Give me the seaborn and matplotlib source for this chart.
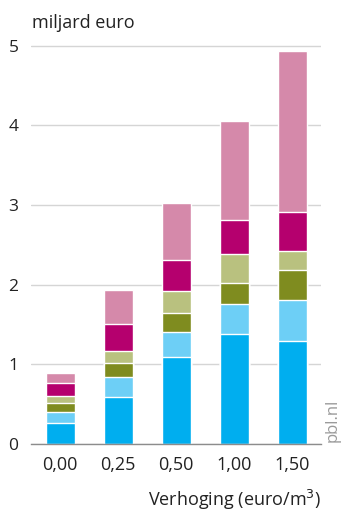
import matplotlib
matplotlib.use("Agg")
import matplotlib.pyplot as plt
import seaborn as sns
import numpy as np
import pandas as pd

# Price increase categories (euro/m3)
categories = ["0,00", "0,25", "0,50", "1,00", "1,50"]

# Stacked components, bottom to top (miljard euro)
comp_1 = [0.26, 0.59, 1.09, 1.38, 1.29]
comp_2 = [0.145, 0.25, 0.32, 0.38, 0.52]
comp_3 = [0.115, 0.18, 0.24, 0.26, 0.37]
comp_4 = [0.08, 0.15, 0.27, 0.37, 0.24]
comp_5 = [0.17, 0.34, 0.39, 0.42, 0.49]
comp_6 = [0.117, 0.42, 0.72, 1.24, 2.02]

components = [comp_1, comp_2, comp_3, comp_4, comp_5, comp_6]
colors = ["#00aeef", "#6dcff6", "#7f8c1f", "#b9c17f", "#b5006e", "#d589aa"]

sns.set_theme(style="white")
plt.rcParams["font.family"] = ["Open Sans", "DejaVu Sans"]

fig = plt.figure(figsize=(3.45, 5.12), dpi=100)
ax = fig.add_axes([31 / 345, 1 - 444 / 512, 290 / 345, (444 - 41.7) / 512])

# Draw cumulative totals from the top layer down so each lower layer covers the one above
cum = np.cumsum(np.array(components), axis=0)
for level in range(len(components) - 1, -1, -1):
    df = pd.DataFrame({"cat": categories, "val": cum[level]})
    sns.barplot(data=df, x="cat", y="val", color=colors[level], width=0.5,
                saturation=1, ax=ax, order=categories)

ax.set_ylim(0, 5.05)
ax.set_xlim(-0.5, 4.5)
ax.set_yticks([0, 1, 2, 3, 4, 5])
ax.set_yticklabels(["0", "1", "2", "3", "4", "5"])
ax.yaxis.grid(True, color="#d5d5d5", linewidth=1)
ax.set_axisbelow(True)
for s in ["top", "right", "left"]:
    ax.spines[s].set_visible(False)
ax.spines["bottom"].set_color("#8c8c8c")
ax.spines["bottom"].set_linewidth(1)
ax.tick_params(axis="both", length=0, colors="#222222")
ax.tick_params(axis="y", pad=9, labelsize=12.5)
ax.tick_params(axis="x", pad=9, labelsize=13)
ax.set_xlabel("")
ax.set_ylabel("")

fig.text(32 / 345, 1 - 28 / 512, "miljard euro", fontsize=13, color="#222222",
         ha="left", va="baseline")
fig.text(321 / 345, 1 - 506 / 512, "Verhoging (euro/m$^3$)", fontsize=13,
         color="#222222", ha="right", va="baseline")
fig.text(333 / 345, 1 - 420 / 512, "pbl.nl", fontsize=12, color="#9a9a9a",
         rotation=90, ha="center", va="center")

fig.savefig("out.png", dpi=100)
